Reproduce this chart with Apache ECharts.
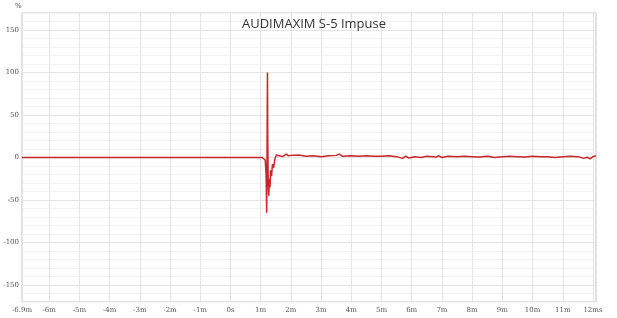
<!DOCTYPE html>
<html>
<head>
<meta charset="utf-8">
<script src="https://cdn.jsdelivr.net/npm/echarts@6/dist/echarts.min.js"></script>
<style>
  html, body { margin: 0; padding: 0; background: #fff; }
  #chart { width: 617px; height: 318px; }
</style>
</head>
<body>
<div id="chart"></div>
<script>
// time in ms, impulse in %
var times = [-6.9, 1.05, 1.10, 1.15, 1.18, 1.20, 1.215, 1.225, 1.235, 1.25, 1.27, 1.29, 1.31, 1.33, 1.36, 1.39,
    1.43, 1.47, 1.52, 1.57, 1.62, 1.67, 1.72, 1.78, 1.85, 1.92, 2.0, 2.25, 2.5, 2.75, 3.0, 3.25, 3.5, 3.6, 3.7,
    4.0, 4.25, 4.5, 4.75, 5.0, 5.25, 5.5, 5.7, 5.8, 5.9, 6.1, 6.3, 6.5, 6.8, 6.9, 7.0, 7.2, 7.5, 7.75, 8.0,
    8.25, 8.5, 8.75, 9.0, 9.25, 9.5, 9.75, 10.0, 10.25, 10.5, 10.75, 11.0, 11.25, 11.5, 11.7, 11.8, 11.9, 12.0, 12.1];
var impulse = [0, 0, 1, -3, -20, -65, 30, 100, 20, -30, -45, -25, -35, -15, -22, -8,
    -12, -2, 3, 5, 2, 4, 1, 3, 4, 2, 2.5, 3, 1.5, 2, 1, 2, 2.5, 4, 1.5,
    2, 1.5, 2, 1.5, 1.5, 2, 1, -1, 1.5, -0.5, 1, 0, 1.5, 0.5, 2, 0, 1.5, 1, 1.5, 1,
    0.5, 1.5, 0, 1, 1.5, 1, 0.5, 1.5, 1, 1, 0, 1, 1.5, 1, -1, 0.5, -1.5, 1, 2];

var xTicks = [-6.9, -6, -5, -4, -3, -2, -1, 0, 1, 2, 3, 4, 5, 6, 7, 8, 9, 10, 11, 12];
var yLabels = [150, 100, 50, 0, -50, -100, -150];

var points = times.map(function (t, i) { return [t, impulse[i]]; });

var chart = echarts.init(document.getElementById('chart'));
chart.setOption({
    backgroundColor: '#fff',
    animation: false,
    title: {
        text: 'AUDIMAXIM S-5 Impuse',
        left: 309,
        textAlign: 'center',
        top: 13,
        textStyle: { fontFamily: 'Open Sans', fontSize: 13, fontWeight: 'normal', color: '#333' }
    },
    graphic: [{
        type: 'text', left: 15, top: 3,
        style: { text: '%', fontSize: 7, fill: '#555', fontFamily: 'DejaVu Serif' }
    }],
    grid: {
        left: 22, right: 21, top: 13, bottom: 16,
        show: true, borderColor: '#c4c4c4', borderWidth: 1
    },
    xAxis: {
        type: 'value',
        min: -6.9,
        max: 12.1,
        axisLine: { show: false },
        axisTick: { show: false, customValues: xTicks },
        axisLabel: {
            customValues: xTicks,
            fontSize: 7,
            color: '#555',
            margin: 5,
            fontFamily: 'DejaVu Serif',
            formatter: function (v) {
                if (v === 0) return '0s';
                if (v === 12) return '12ms';
                return v + 'm';
            }
        },
        splitLine: { show: true, lineStyle: { color: '#e4e4e4', width: 1 } }
    },
    yAxis: {
        type: 'value',
        min: -170,
        max: 170,
        interval: 10,
        axisLine: { show: false },
        axisTick: { show: false },
        axisLabel: {
            fontSize: 7,
            color: '#555',
            margin: 3,
            fontFamily: 'DejaVu Serif',
            formatter: function (v) {
                return yLabels.indexOf(v) >= 0 ? String(v) : '';
            }
        },
        splitLine: {
            show: true,
            lineStyle: { color: ['#f3f3f3', '#f3f3f3', '#e4e4e4', '#f3f3f3', '#f3f3f3'], width: 1 }
        }
    },
    series: [{
        type: 'line',
        data: points,
        showSymbol: false,
        symbol: 'none',
        lineStyle: { color: '#c8262b', width: 1.5 }
    }]
});
</script>
</body>
</html>
